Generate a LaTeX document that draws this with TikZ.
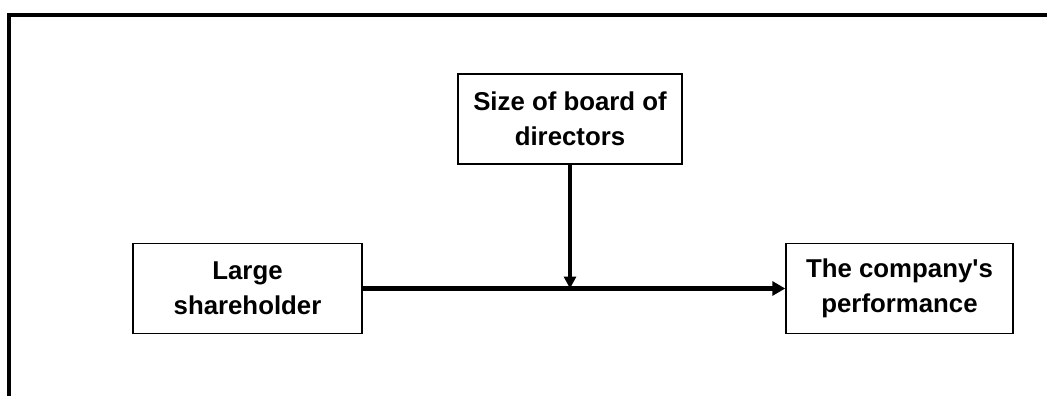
\documentclass[tikz,border=0pt]{standalone}
\usepackage{fontspec}
\setmainfont{Liberation Sans}
\usetikzlibrary{arrows.meta}
\begin{document}
\begin{tikzpicture}[x=1pt,y=1pt,
  box/.style={draw,line width=1.5pt,minimum height=90pt,inner sep=0pt,align=center,
    font=\fontsize{25.8pt}{35pt}\selectfont\bfseries}]
\useasboundingbox (0,0) rectangle (1047,-396);
\draw[line width=4pt,line join=miter] (8.5,-396) -- (8.5,-15) -- (1047,-15);
\node[box,minimum width=229pt] (ls) at (247.5,-288.5) {Large\\shareholder};
\node[box,minimum width=224pt] (sb) at (570,-119) {Size of board of\\directors};
\node[box,minimum width=227pt] (cp) at (899.5,-288.5) {The company\textquotesingle s\\performance};
\coordinate (m) at (sb.south |- ls.east);
\draw[line width=4.5pt,-{Triangle[length=13pt,width=14pt]}] (ls.east) -- (cp.west);
\draw[line width=4pt,-{Triangle[length=12pt,width=12pt]}] (sb.south) -- (m);
\end{tikzpicture}
\end{document}
